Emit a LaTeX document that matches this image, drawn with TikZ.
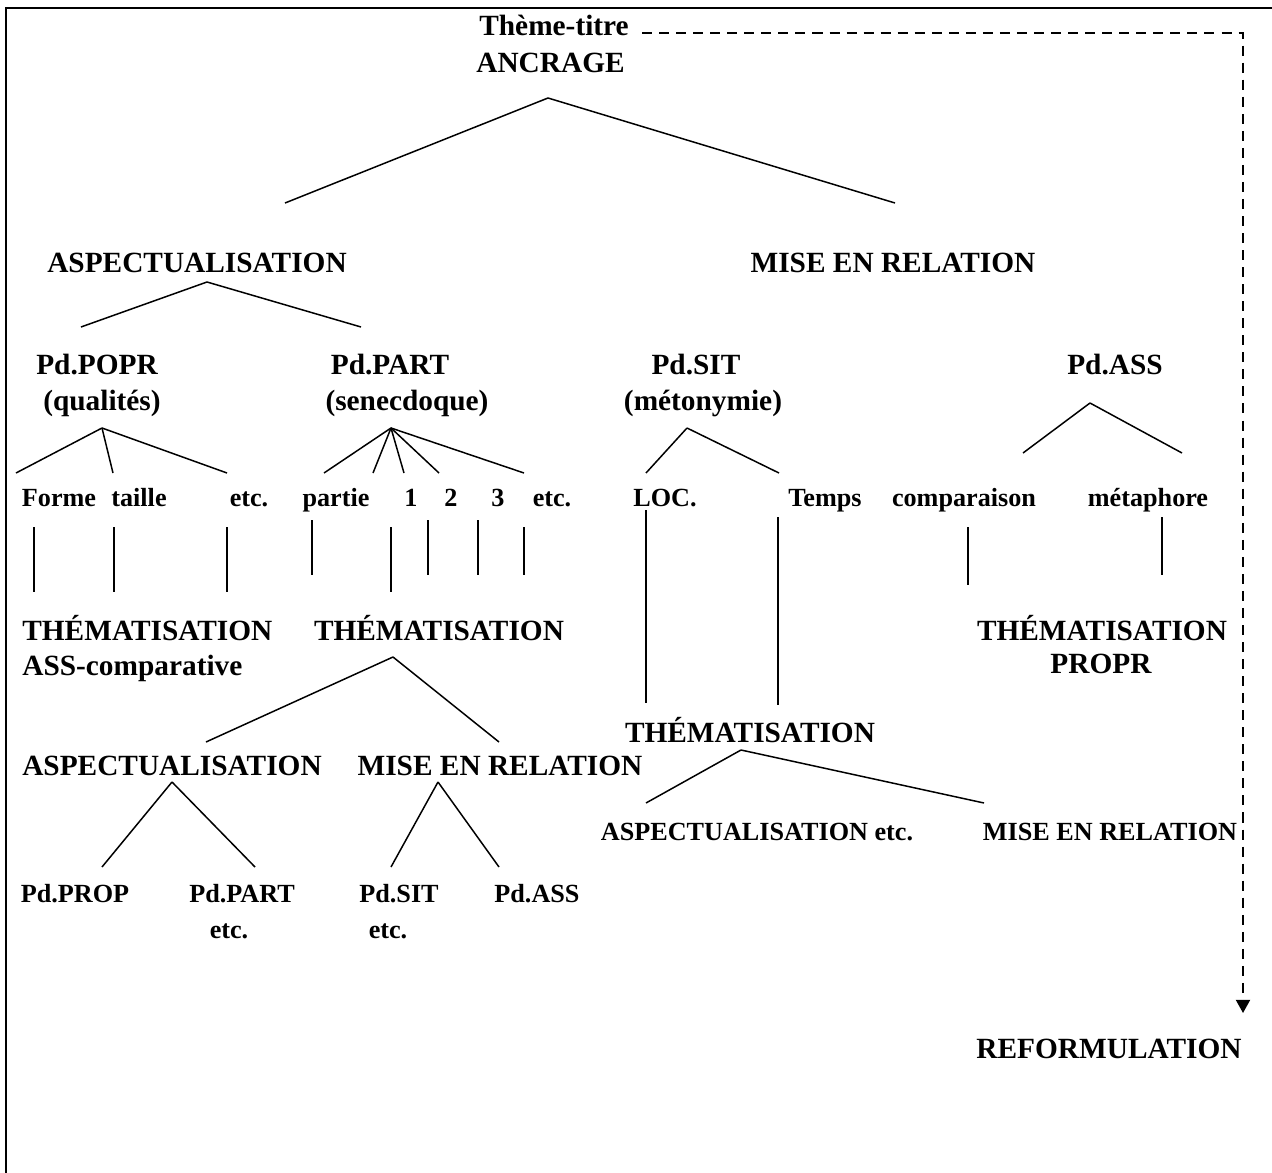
\documentclass[tikz,border=0pt]{standalone}
\usepackage{fontspec}
\setmainfont{Liberation Serif}
\usetikzlibrary{arrows.meta}

\begin{document}
\begin{tikzpicture}[x=0.02cm, y=-0.02cm,
    big/.style={font=\fontsize{16.7}{20}\selectfont\bfseries, inner sep=0pt, anchor=base},
    sml/.style={font=\fontsize{14.9}{18}\selectfont\bfseries, inner sep=0pt, anchor=base},
    branch/.style={line width=0.85pt},
    link/.style={line width=1.1pt, dash pattern=on 5.7pt off 4pt}]
  \useasboundingbox (0,0) rectangle (1272,1173);
  % Frame
  \draw[line width=1.5pt] (6,1173) -- (6,8) -- (1272,8);

  % Nodes
  \node[big, anchor=base west] (theme) at (479,35) {Thème-titre};
  \node[big, anchor=base west] (ancrage) at (476,72) {ANCRAGE};
  \node[big] (asp) at (197,272) {ASPECTUALISATION};
  \node[big] (mer) at (893,272) {MISE EN RELATION};
  \node[big] (popr) at (97,374) {Pd.POPR};
  \node[big] (qual) at (102,410) {(qualités)};
  \node[big] (part) at (390,374) {Pd.PART};
  \node[big] (senec) at (407,410) {(senecdoque)};
  \node[big] (sit) at (696,374) {Pd.SIT};
  \node[big] (meto) at (703,410) {(métonymie)};
  \node[big] (ass) at (1115,374) {Pd.ASS};
  \foreach \n/\x/\t in {forme/59/Forme, taille/139/taille, etcA/249/etc., partie/336/partie,
                        un/411/1, deux/451/2, trois/498/3, etcB/552/etc.,
                        loc/665/LOC., temps/825/Temps, comp/964/comparaison, meta/1148/métaphore}
  \node[sml] (\n) at (\x,506) {\t};
  \node[big, anchor=base west] (themA) at (22,640) {THÉMATISATION};
  \node[big, anchor=base west] (asscomp) at (22,675) {ASS-comparative};
  \node[big] (themB) at (439,640) {THÉMATISATION};
  \node[big] (themC) at (1102,640) {THÉMATISATION};
  \node[big] (propr) at (1101,673) {PROPR};
  \node[big] (themD) at (750,742) {THÉMATISATION};
  \node[big] (aspB) at (172,775) {ASPECTUALISATION};
  \node[big] (merB) at (500,775) {MISE EN RELATION};
  \node[sml] (aspC) at (757,840) {ASPECTUALISATION etc.};
  \node[sml] (merC) at (1110,840) {MISE EN RELATION};
  \node[sml] (prop) at (75,902) {Pd.PROP};
  \node[sml] (partB) at (242,902) {Pd.PART};
  \node[sml] (etcC) at (229,938) {etc.};
  \node[sml] (sitB) at (399,902) {Pd.SIT};
  \node[sml] (etcD) at (388,938) {etc.};
  \node[sml] (assB) at (537,902) {Pd.ASS};
  \node[big] (reform) at (1109,1058) {REFORMULATION};

  % Branches
  \coordinate (ancTop) at (548,98);
  \coordinate (aspTop) at (207,282);
  \coordinate (poprTop) at (102,428);
  \coordinate (partTop) at (391,428);
  \coordinate (sitTop) at (687,428);
  \coordinate (assTop) at (1090,403);
  \coordinate (themBTop) at (393,657);
  \coordinate (aspBTop) at (172,782);
  \coordinate (merBTop) at (438,782);
  \coordinate (themDTop) at (741,750);
  \foreach \p/\i/\x/\y in {anc/1/285/203, anc/2/895/203,
                           asp/1/81/327, asp/2/361/327,
                           popr/1/16/473, popr/2/113/473, popr/3/227/473,
                           part/1/324/473, part/2/373/473, part/3/404/473, part/4/439/473, part/5/524/473,
                           sit/1/646/473, sit/2/779/473,
                           ass/1/1023/453, ass/2/1182/453,
                           themB/1/206/742, themB/2/499/742,
                           aspB/1/102/867, aspB/2/255/867,
                           merB/1/391/867, merB/2/499/867,
                           themD/1/646/803, themD/2/984/803}
  {
    \coordinate (\p-\i) at (\x,\y);
    \draw[branch] (\p Top) -- (\p-\i);
  }
  \foreach \n/\x/\ya/\yb in {forme/34/527/592, taille/114/527/592, etcA/227/527/592,
                             partie/312/520/575, mid/391/527/592, un/428/520/575,
                             trois/478/520/575, etcB/524/527/575,
                             loc/646/510/703, temps/778/517/705,
                             comp/968/527/585, meta/1162/517/575}
  {
    \coordinate (\n-u) at (\x,\ya);
    \coordinate (\n-d) at (\x,\yb);
    \draw[branch] (\n-u) -- (\n-d);
  }

  % Reformulation link
  \coordinate (linkEnd) at (1243,1013);
  \draw[link, -{Triangle[length=7.5pt, width=8pt]}]
    ([xshift=0.26cm, yshift=0.04cm]theme.base east) -| (linkEnd);
\end{tikzpicture}
\end{document}
